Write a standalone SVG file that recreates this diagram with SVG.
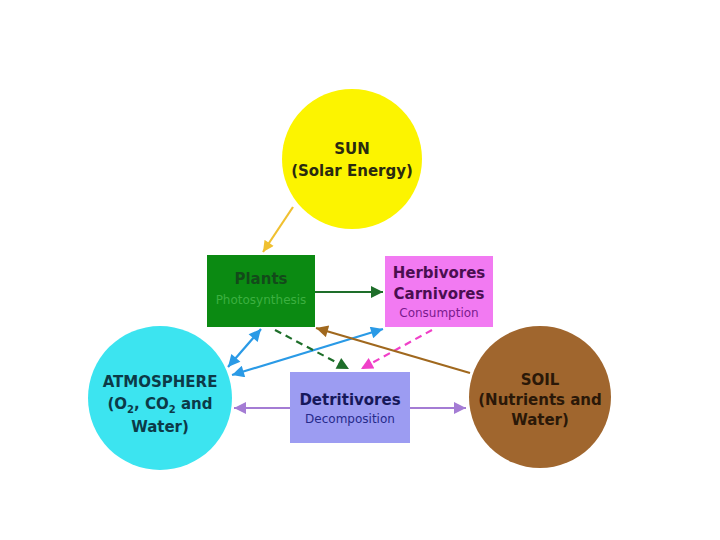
<svg xmlns="http://www.w3.org/2000/svg" width="720" height="540" viewBox="0 0 720 540">
<style>
.t{font-family:"DejaVu Sans","Liberation Sans",sans-serif;text-anchor:middle}
.b{font-weight:bold;font-size:15px}
.s{font-size:12px}
.ln{fill:none;stroke-width:2.2}
</style>
<defs>
<marker id="aY" viewBox="0 0 10 10" refX="10" refY="5" markerWidth="12" markerHeight="11" markerUnits="userSpaceOnUse" orient="auto-start-reverse"><path d="M0,0L10,5L0,10z" fill="#f0c030"/></marker>
<marker id="aG" viewBox="0 0 10 10" refX="10" refY="5" markerWidth="14" markerHeight="12" markerUnits="userSpaceOnUse" orient="auto-start-reverse"><path d="M0,0L10,5L0,10z" fill="#1e6e2a"/></marker>
<marker id="aB" viewBox="0 0 10 10" refX="10" refY="5" markerWidth="14" markerHeight="12" markerUnits="userSpaceOnUse" orient="auto-start-reverse"><path d="M0,0L10,5L0,10z" fill="#2a9ae6"/></marker>
<marker id="aM" viewBox="0 0 10 10" refX="10" refY="5" markerWidth="14" markerHeight="12" markerUnits="userSpaceOnUse" orient="auto-start-reverse"><path d="M0,0L10,5L0,10z" fill="#f040c8"/></marker>
<marker id="aBr" viewBox="0 0 10 10" refX="10" refY="5" markerWidth="14" markerHeight="12" markerUnits="userSpaceOnUse" orient="auto-start-reverse"><path d="M0,0L10,5L0,10z" fill="#a0681e"/></marker>
<marker id="aP" viewBox="0 0 10 10" refX="10" refY="5" markerWidth="14" markerHeight="12" markerUnits="userSpaceOnUse" orient="auto-start-reverse"><path d="M0,0L10,5L0,10z" fill="#a47cd4"/></marker>
</defs>
<rect width="720" height="540" fill="#ffffff"/>
<g id="connectors">
<line class="ln" x1="293" y1="207" x2="263" y2="252" stroke="#f0c030" marker-end="url(#aY)"/>
<line class="ln" x1="315" y1="292" x2="383" y2="292" stroke="#1e6e2a" marker-end="url(#aG)"/>
<line class="ln" x1="261" y1="329" x2="228" y2="367" stroke="#2a9ae6" marker-start="url(#aB)" marker-end="url(#aB)"/>
<line class="ln" x1="383" y1="329" x2="232" y2="375" stroke="#2a9ae6" marker-start="url(#aB)" marker-end="url(#aB)"/>
<line class="ln" x1="275" y1="330" x2="349" y2="369" stroke="#1e6e2a" stroke-dasharray="7,5" marker-end="url(#aG)"/>
<line class="ln" x1="432" y1="330" x2="361" y2="369" stroke="#f040c8" stroke-dasharray="7,5" marker-end="url(#aM)"/>
<line class="ln" x1="470" y1="373" x2="316" y2="328" stroke="#a0681e" marker-end="url(#aBr)"/>
<line class="ln" x1="290" y1="408" x2="234" y2="408" stroke="#a47cd4" marker-end="url(#aP)"/>
<line class="ln" x1="410" y1="408" x2="466" y2="408" stroke="#a47cd4" marker-end="url(#aP)"/>
</g>
<g id="sun">
<circle cx="352" cy="159" r="70" fill="#fcf400"/>
<text class="t b" x="352" y="154" fill="#2a2a10">SUN</text>
<text class="t b" x="352" y="176" fill="#2a2a10">(Solar Energy)</text>
</g>
<g id="plants">
<rect x="207" y="255" width="108" height="72" fill="#0b8a12"/>
<text class="t b" x="261" y="284" fill="#134a1a">Plants</text>
<text class="t s" x="261" y="304" fill="#3cb040">Photosynthesis</text>
</g>
<g id="herbivores">
<rect x="385" y="256" width="108" height="71" fill="#f27af2"/>
<text class="t b" x="439" y="278" fill="#4a0e50">Herbivores</text>
<text class="t b" x="439" y="299" fill="#4a0e50">Carnivores</text>
<text class="t s" x="439" y="317" fill="#7a1a8e">Consumption</text>
</g>
<g id="detritivores">
<rect x="290" y="372" width="120" height="71" fill="#9c9cf2"/>
<text class="t b" x="350" y="405" fill="#16185a">Detritivores</text>
<text class="t s" x="350" y="423" fill="#262a8a">Decomposition</text>
</g>
<g id="atmosphere">
<circle cx="160" cy="398" r="72" fill="#3ce4f0"/>
<text class="t b" x="160" y="387" fill="#0c3a48">ATMOSPHERE</text>
<text class="t b" x="160" y="409" fill="#0c3a48">(O<tspan font-size="10" dy="4">2</tspan><tspan dy="-4">, CO</tspan><tspan font-size="10" dy="4">2</tspan><tspan dy="-4"> and</tspan></text>
<text class="t b" x="160" y="432" fill="#0c3a48">Water)</text>
</g>
<g id="soil">
<circle cx="540" cy="397" r="71" fill="#a0662e"/>
<text class="t b" x="540" y="385" fill="#2a1808">SOIL</text>
<text class="t b" x="540" y="405" fill="#2a1808">(Nutrients and</text>
<text class="t b" x="540" y="425" fill="#2a1808">Water)</text>
</g>
</svg>
